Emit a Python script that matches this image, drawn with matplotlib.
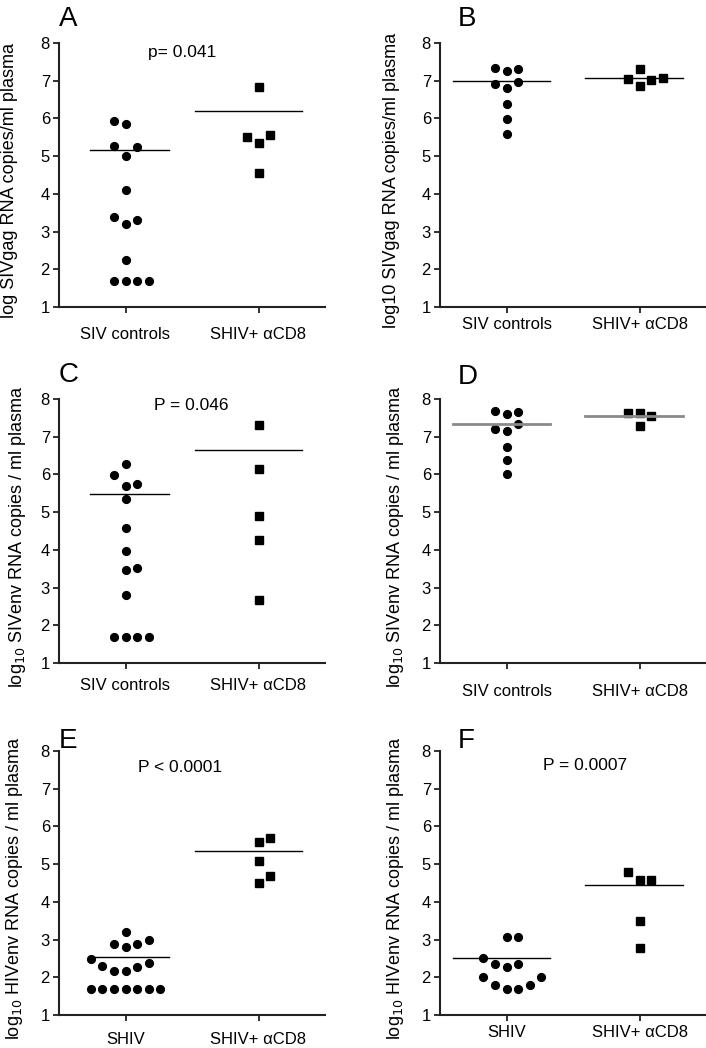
import matplotlib
matplotlib.use("Agg")
import matplotlib.pyplot as plt

plt.rcParams['font.family'] = ['Liberation Sans', 'DejaVu Sans']

# panel A
a_g1 = [5.92, 5.86, 5.28, 5.24, 5.01, 4.11, 3.38, 3.21, 3.30, 2.24, 1.7, 1.7, 1.7, 1.7]
a_g2 = [6.83, 5.50, 5.35, 5.57, 4.55]
a_means = [5.17, 6.19]
# panel B
b_g1 = [7.35, 7.27, 7.32, 6.91, 6.81, 6.96, 6.38, 5.99, 5.60]
b_g2 = [7.05, 7.30, 6.85, 7.02, 7.08]
b_means = [7.00, 7.08]
# panel C
c_g1 = [5.99, 6.28, 5.68, 5.75, 5.35, 4.58, 3.96, 3.47, 3.51, 2.81, 1.7, 1.7, 1.7, 1.7]
c_g2 = [7.32, 6.15, 4.91, 4.27, 2.66]
c_means = [5.49, 6.66]
# panel D
d_g1 = [7.67, 7.60, 7.65, 7.21, 7.16, 7.34, 6.72, 6.37, 6.02]
d_g2 = [7.63, 7.63, 7.56, 7.29]
d_means = [7.34, 7.56]
# panel E
e_g1 = [3.19, 2.88, 2.79, 2.88, 2.99, 2.49, 2.30, 2.17, 2.17, 2.28, 2.37,
        1.7, 1.7, 1.7, 1.7, 1.7, 1.7, 1.7]
e_g2 = [5.58, 5.70, 5.08, 4.69, 4.49]
e_means = [2.55, 5.34]
# panel F
f_g1 = [3.08, 3.08, 2.50, 2.36, 2.27, 2.36, 2.00, 1.79, 1.68, 1.68, 1.79, 2.00]
f_g2 = [4.78, 4.58, 4.58, 3.49, 2.78]
f_means = [2.50, 4.45]

# column slot of each point (dot plot spreading)
a_slots = ([-1, 0, -1, 1, 0, 0, -1, 0, 1, 0, -1, 0, 1, 2], [0, -1, 0, 1, 0])
b_slots = ([-1, 0, 1, -1, 0, 1, 0, 0, 0], [-1, 0, 0, 1, 2])
c_slots = ([-1, 0, 0, 1, 0, 0, 0, 0, 1, 0, -1, 0, 1, 2], [0, 0, 0, 0, 0])
d_slots = ([-1, 0, 1, -1, 0, 1, 0, 0, 0], [-1, 0, 1, 0])
e_slots = ([0, -1, 0, 1, 2, -3, -2, -1, 0, 1, 2, -3, -2, -1, 0, 1, 2, 3], [0, 1, 0, 1, 0])
f_slots = ([0, 1, -2, -1, 0, 1, -2, -1, 0, 1, 2, 3], [-1, 0, 1, 0, 0])

siv_labels = ["SIV controls", "SHIV+ \u03b1CD8"]
shiv_labels = ["SHIV", "SHIV+ \u03b1CD8"]

panels = [
    dict(letter="A", g1=a_g1, g2=a_g2, means=a_means, slots=a_slots, labels=siv_labels,
         ylabel="log SIVgag RNA copies/ml plasma", p="p= 0.041"),
    dict(letter="B", g1=b_g1, g2=b_g2, means=b_means, slots=b_slots, labels=siv_labels,
         ylabel="log10 SIVgag RNA copies/ml plasma", p=None),
    dict(letter="C", g1=c_g1, g2=c_g2, means=c_means, slots=c_slots, labels=siv_labels,
         ylabel="log$_{10}$ SIVenv RNA copies / ml plasma", p="P = 0.046"),
    dict(letter="D", g1=d_g1, g2=d_g2, means=d_means, slots=d_slots, labels=siv_labels,
         ylabel="log$_{10}$ SIVenv RNA copies / ml plasma", p=None),
    dict(letter="E", g1=e_g1, g2=e_g2, means=e_means, slots=e_slots, labels=shiv_labels,
         ylabel="log$_{10}$ HIVenv RNA copies / ml plasma", p="P < 0.0001"),
    dict(letter="F", g1=f_g1, g2=f_g2, means=f_means, slots=f_slots, labels=shiv_labels,
         ylabel="log$_{10}$ HIVenv RNA copies / ml plasma", p="P = 0.0007"),
]

W, H = 706, 1048
fig = plt.figure(figsize=(W / 100, H / 100), dpi=100)

# layout in pixels: axes left, axes top, ylabel x, xlabel gap, letter pos, p text pos, line spans
left_px = [59, 440, 59, 440, 59, 440]
top_px = [43, 43, 399, 399, 751, 751]
ylab_px = [10, 392, 18, 395, 15, 395]
xgap_px = [18, 8, 13, 19, 15, 8]
letter_px = [(59, 6), (458, 6), (59, 362), (458, 364), (59, 728), (458, 728)]
p_px = [(182, 53), None, (191, 405), None, (180, 767), (585, 765)]
span_left = [(-0.27, -0.48), (-0.40, -0.41), (-0.27, -0.48), (-0.40, -0.41), (-0.27, -0.48), (-0.40, -0.41)]
slot_w = 0.0874
ax_w, ax_h = 266, 264

for i, pn in enumerate(panels):
    ax = fig.add_axes([left_px[i] / W, 1 - (top_px[i] + ax_h) / H, ax_w / W, ax_h / H])
    ax.set_xlim(0.5, 2.5)
    ax.set_ylim(1, 8)
    for j, (vals, marker) in enumerate([(pn["g1"], "o"), (pn["g2"], "s")]):
        xs = [j + 1 + s * slot_w for s in pn["slots"][j]]
        ax.plot(xs, vals, linestyle="none", marker=marker, color="black",
                markersize=5.6 if marker == "o" else 5.2, clip_on=False)
        lc, lw = ("#8a8a8a", 2.0) if pn["letter"] == "D" else ("black", 1.0)
        ax.plot([j + 1 + span_left[i][j], j + 1 + 0.33], [pn["means"][j]] * 2,
                color=lc, lw=lw)
    for side in ("top", "right"):
        ax.spines[side].set_visible(False)
    for side in ("left", "bottom"):
        ax.spines[side].set_linewidth(1.5)
        ax.spines[side].set_color("#222222")
    ax.set_yticks(range(1, 9))
    ax.set_xticks([1, 2])
    ax.set_xticklabels(pn["labels"])
    ax.tick_params(axis="y", length=4, width=1.3, pad=2.5, labelsize=12, color="#222222")
    ax.tick_params(axis="x", length=4, width=1.3, pad=(xgap_px[i] - 5) * 0.72 + 1,
                   labelsize=12, color="#222222")
    ax.set_ylabel(pn["ylabel"], fontsize=13, va="center")
    ax.yaxis.set_label_coords((ylab_px[i] - left_px[i]) / ax_w, 0.48)
    lx, ly = letter_px[i]
    fig.text(lx / W, 1 - ly / H, pn["letter"], fontsize=20, ha="left", va="top")
    if p_px[i] is not None:
        px, py = p_px[i]
        fig.text(px / W, 1 - py / H, pn["p"], fontsize=12.5, ha="center", va="center")

fig.savefig("out.png", dpi=100)
